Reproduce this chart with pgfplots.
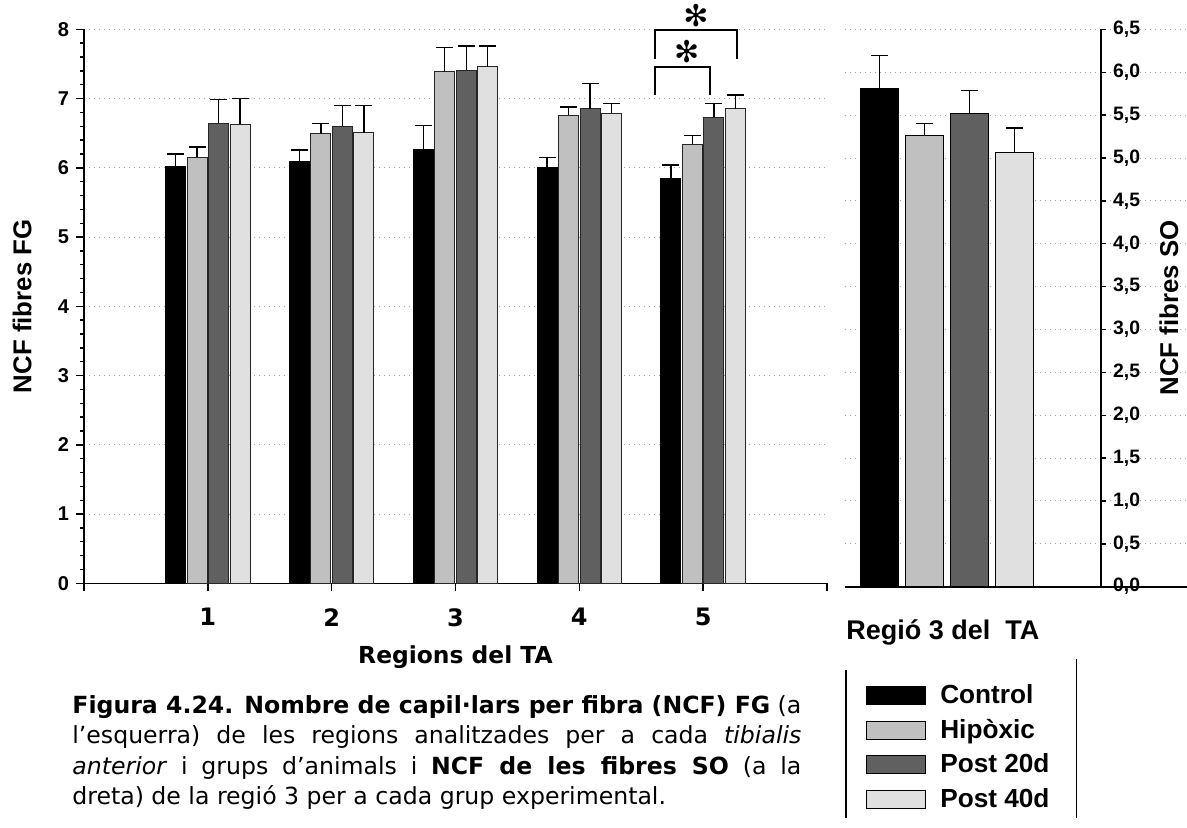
\documentclass[border=0pt]{standalone}
\usepackage{fontspec}
\setmainfont{Liberation Sans}
\newfontfamily\dejavu{DejaVu Sans}
\usepackage{pgfplots}
\usepackage{pgfplotstable}
\pgfplotsset{compat=1.18}
\definecolor{cHip}{HTML}{C0C0C0}
\definecolor{cPa}{HTML}{606060}
\definecolor{cPb}{HTML}{E0E0E0}
\definecolor{gridc}{HTML}{A0A0A0}

\pgfplotstableread{
x y e
1 6.02 0.18
2 6.09 0.17
3 6.26 0.35
4 6.00 0.15
5 5.85 0.19
}\ctrl
\pgfplotstableread{
x y e
1 6.15 0.15
2 6.49 0.15
3 7.39 0.35
4 6.76 0.12
5 6.34 0.13
}\hip
\pgfplotstableread{
x y e
1 6.64 0.35
2 6.60 0.30
3 7.41 0.35
4 6.85 0.37
5 6.73 0.20
}\pa
\pgfplotstableread{
x y e
1 6.63 0.37
2 6.51 0.39
3 7.46 0.30
4 6.79 0.14
5 6.85 0.20
}\pb

\pgfplotsset{
  mygrid/.style={ymajorgrids, major grid style={draw=gridc, line width=0.5pt, dash pattern=on 0.5pt off 2pt}},
  errL/.style={error bars/y dir=plus, error bars/y explicit,
    error bars/error bar style={line width=0.7pt, black, solid},
    error bars/error mark options={rotate=90, mark size=4.25pt, line width=0.7pt, black, solid}},
  errR/.style={error bars/y dir=plus, error bars/y explicit,
    error bars/error bar style={line width=0.55pt, black, solid},
    error bars/error mark options={rotate=90, mark size=4.25pt, line width=0.55pt, black, solid}},
}

\begin{document}
\begin{tikzpicture}
\path[use as bounding box] (0,0) rectangle (593.5pt,413.5pt);

% ---------- left panel ----------
\begin{axis}[
  at={(42pt,121.85pt)}, anchor=south west, scale only axis,
  width=371.5pt, height=277pt,
  xmin=0, xmax=6, ymin=0, ymax=8, clip=false,
  axis x line*=bottom, axis y line*=left,
  axis line style={line width=0.8pt, -},
  xtick={0,1,2,3,4,5,6}, xticklabels={,1,2,3,4,5,},
  ytick={0,1,2,3,4,5,6,7,8}, minor y tick num=4,
  tick align=outside, major tick length=4pt, minor tick length=2pt,
  tick style={black, line width=0.7pt},
  mygrid,
  ybar=0.75pt, bar width=10pt,
  yticklabel style={font=\bfseries\fontsize{10}{10}\selectfont, /pgf/number format/assume math mode=true},
  xticklabel style={font=\dejavu\bfseries\fontsize{12}{12}\selectfont, yshift=-5pt},
  xlabel={Regions del TA},
  xlabel style={font=\dejavu\bfseries\fontsize{11.7}{12}\selectfont, at={(axis description cs:0.5,-0.145)}, anchor=base},
  ylabel={NCF fibres FG},
  ylabel style={font=\bfseries\fontsize{12.9}{13}\selectfont, at={(axis description cs:-0.0834,0.5)}, anchor=center},
]
\addplot[fill=black, draw=black, line width=0.5pt, errL] table[x=x, y=y, y error=e]{\ctrl};
\addplot[fill=cHip, draw=black!85, line width=0.5pt, errL] table[x=x, y=y, y error=e]{\hip};
\addplot[fill=cPa, draw=black!85, line width=0.5pt, errL] table[x=x, y=y, y error=e]{\pa};
\addplot[fill=cPb, draw=black!85, line width=0.5pt, errL] table[x=x, y=y, y error=e]{\pb};
\draw[line width=0.9pt] (axis cs:4.614,7.05) |- (axis cs:5.052,7.46) -- (axis cs:5.052,7.05);
\draw[line width=0.9pt] (axis cs:4.614,7.57) |- (axis cs:5.273,7.99) -- (axis cs:5.273,7.57);
\node[font=\dejavu\bfseries\fontsize{15}{15}\selectfont, inner sep=0pt] at (axis cs:4.867,7.68) {✻};
\node[font=\dejavu\bfseries\fontsize{15}{15}\selectfont, inner sep=0pt] at (axis cs:4.942,8.2) {✻};
\end{axis}

% ---------- right panel background (grid + baseline) ----------
\begin{axis}[
  at={(422.5pt,120.15pt)}, anchor=south west, scale only axis,
  width=171pt, height=278.65pt,
  xmin=0, xmax=1, ymin=0, ymax=6.5,
  axis x line*=bottom, axis y line*=left,
  y axis line style={draw=none}, x axis line style={line width=0.8pt, -},
  xtick=\empty, ytick={0,0.5,1,1.5,2,2.5,3,3.5,4,4.5,5,5.5,6,6.5}, yticklabels={},
  major tick length=0pt, mygrid,
]
\end{axis}

% ---------- right panel ----------
\begin{axis}[
  at={(422.5pt,120.15pt)}, anchor=south west, scale only axis,
  width=128pt, height=278.65pt,
  xmin=0.233, xmax=5.922, ymin=0, ymax=6.5,
  axis y line*=right, axis x line=none,
  y axis line style={line width=0.8pt, -},
  ytick={0,0.5,1,1.5,2,2.5,3,3.5,4,4.5,5,5.5,6,6.5},
  tick align=outside, major tick length=2.5pt, tick style={black, line width=0.7pt},
  yticklabel style={font=\bfseries\fontsize{9.7}{10}\selectfont,
    /pgf/number format/.cd, fixed, fixed zerofill, precision=1, use comma, assume math mode=true},
  ylabel={NCF fibres SO},
  ylabel style={font=\bfseries\fontsize{12.9}{13}\selectfont, at={(axis description cs:1.2656,0.5)}, anchor=center},
  ybar, bar width=19.25pt,
  legend style={draw=none, fill=none, at={(axis description cs:0.0566,-0.161)}, anchor=north west,
    font=\bfseries\fontsize{13.1}{13}\selectfont, row sep=2.2pt, column sep=5.2pt, legend cell align=left},
  legend image code/.code={\draw[#1] (0pt,-4.5pt) rectangle (29.5pt,4.5pt);},
]
\addplot[fill=black, draw=black, line width=0.5pt, bar shift=0pt, errR] coordinates {(1,5.81) +- (0,0.39)};
\addplot[fill=cHip, draw=black, line width=0.5pt, bar shift=0pt, errR] coordinates {(2,5.26) +- (0,0.14)};
\addplot[fill=cPa, draw=black, line width=0.5pt, bar shift=0pt, errR] coordinates {(3,5.52) +- (0,0.27)};
\addplot[fill=cPb, draw=black, line width=0.5pt, bar shift=0pt, errR] coordinates {(4,5.06) +- (0,0.29)};
\legend{Control, Hipòxic, Post 20d, Post 40d}
\end{axis}

\node[anchor=base west, inner sep=0pt, font=\bfseries\fontsize{13.5}{14}\selectfont] at (423pt,94pt) {Regió 3 del\ \ TA};
\draw[line width=0.6pt] (423pt,78.5pt) -- (423pt,4.5pt);
\draw[line width=0.6pt] (538.35pt,84pt) -- (538.35pt,4.5pt);

\node[anchor=base west, inner sep=0pt, text width=364.5pt, align=justify,
  font=\dejavu\fontsize{11.8}{15.3}\selectfont] at (36pt,57pt)
  {{\bfseries Figura 4.24. Nombre de capil·lars per fibra (NCF) FG} (a\linebreak
   l’esquerra) de les regions analitzades per a cada \textit{tibialis}\linebreak
   \textit{anterior} i grups d’animals i {\bfseries NCF de les fibres SO} (a la\linebreak
   dreta) de la regió 3 per a cada grup experimental.};
\end{tikzpicture}
\end{document}
